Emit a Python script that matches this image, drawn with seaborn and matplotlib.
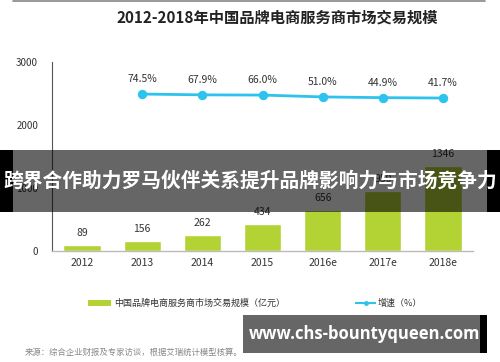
import matplotlib
matplotlib.use("Agg")
import matplotlib.pyplot as plt
import seaborn as sns
import pandas as pd
from matplotlib.patches import Rectangle
from matplotlib.lines import Line2D

years = ["2012", "2013", "2014", "2015", "2016e", "2017e", "2018e"]
scale = [89, 156, 262, 434, 656, 950, 1346]
growth_years = ["2013", "2014", "2015", "2016e", "2017e", "2018e"]
growth = [74.5, 67.9, 66.0, 51.0, 44.9, 41.7]
yticks = [0, 1000, 2000, 3000]

title = "2012-2018年中国品牌电商服务商市场交易规模"
legend_bar = "中国品牌电商服务商市场交易规模（亿元）"
legend_line = "增速（%）"
source = "来源：综合企业财报及专家访谈，根据艾瑞统计模型核算。"
banner = "跨界合作助力罗马伙伴关系提升品牌影响力与市场竞争力"
watermark = "www.chs-bountyqueen.com"

GREEN = "#B3D335"
CYAN = "#2DC3EE"

sns.set_theme(style="white")
plt.rcParams["font.family"] = ["Noto Sans CJK SC", "DejaVu Sans"]

fig = plt.figure(figsize=(5.0, 3.62), dpi=100)
ax = fig.add_axes([0.104, 0.3066, 0.842, 0.522])

df = pd.DataFrame({"year": years, "value": scale})
sns.barplot(data=df, x="year", y="value", color=GREEN, width=0.62,
            saturation=1, ax=ax, order=years)
ax.set_ylim(0, 3000)
ax.set_xlim(-0.5, len(years) - 0.5)
ax.set_yticks(yticks)
ax.set_yticklabels([str(t) for t in yticks], fontsize=7, color="#333333")
ax.tick_params(axis="y", length=0, pad=10)
ax.tick_params(axis="x", length=0, pad=5, labelsize=7.5, labelcolor="#333333")
ax.set_xlabel("")
ax.set_ylabel("")
for s in ["top", "right"]:
    ax.spines[s].set_visible(False)
ax.spines["left"].set_color("#555555")
ax.spines["left"].set_linewidth(0.8)
ax.spines["bottom"].set_color("#BBBBBB")
ax.spines["bottom"].set_linewidth(1.0)
for i, v in enumerate(scale):
    ax.text(i, v + 110, str(v), ha="center", va="bottom", fontsize=7.5, color="#333333")

ax2 = ax.twinx()
gdf = pd.DataFrame({"x": [years.index(y) for y in growth_years], "g": growth})
sns.lineplot(data=gdf, x="x", y="g", color=CYAN, linewidth=2.0, marker="o",
             markersize=6, markeredgecolor=CYAN, ax=ax2)
ax2.set_ylim(-1213, 337)
ax2.set_xlim(-0.5, len(years) - 0.5)
ax2.axis("off")
for xi, g in zip(gdf["x"], growth):
    ax2.text(xi, g + 80, f"{g:.1f}%", ha="center", va="bottom", fontsize=7.5, color="#333333")

# title and top rule
fig.add_artist(Line2D([0.026, 0.97], [0.997, 0.997], color="#888888", lw=1.2))
fig.text(0.555, 0.952, title, ha="center", va="center", fontsize=11,
         fontweight="bold", color="#222222")

# legend
fig.add_artist(Rectangle((0.176, 0.155), 0.046, 0.016, transform=fig.transFigure,
                         facecolor=GREEN, edgecolor="none"))
fig.text(0.228, 0.163, legend_bar, ha="left", va="center", fontsize=6.5, color="#333333")
fig.add_artist(Line2D([0.71, 0.731, 0.752], [0.163, 0.163, 0.163], color=CYAN, lw=1.5,
                      solid_capstyle="butt", marker="o", markersize=2.5, markevery=[1]))
fig.text(0.756, 0.163, legend_line, ha="left", va="center", fontsize=6.5, color="#333333")

# source
fig.text(0.05, 0.028, source, ha="left", va="center", fontsize=6, color="#888888")

# banner overlay
fig.add_artist(Rectangle((0, 1 - 212 / 362), 1, 62 / 362, transform=fig.transFigure,
                         facecolor="black", alpha=0.6, edgecolor="none", zorder=10))
fig.add_artist(Rectangle((0, 1 - 212 / 362), 0.026, 62 / 362, transform=fig.transFigure,
                         facecolor="black", edgecolor="none", zorder=11))
fig.add_artist(Rectangle((0.973, 1 - 212 / 362), 0.027, 62 / 362, transform=fig.transFigure,
                         facecolor="black", edgecolor="none", zorder=11))
fig.text(0.5, 1 - 181 / 362, banner, ha="center", va="center", fontsize=14.2,
         fontweight="bold", color="white", zorder=12)

# watermark
fig.add_artist(Rectangle((0.486, 1 - 353 / 362), 0.474, 38 / 362, transform=fig.transFigure,
                         facecolor="#666666", edgecolor="none", zorder=10))
fig.add_artist(Rectangle((0.96, 1 - 353 / 362), 0.014, 38 / 362, transform=fig.transFigure,
                         facecolor="black", edgecolor="none", zorder=10))
fig.text(0.73, 1 - 334 / 362, watermark, ha="center", va="center", fontsize=12,
         fontweight="bold", color="white", zorder=12, family=["Open Sans", "DejaVu Sans"])

fig.savefig("out.png", dpi=100)
